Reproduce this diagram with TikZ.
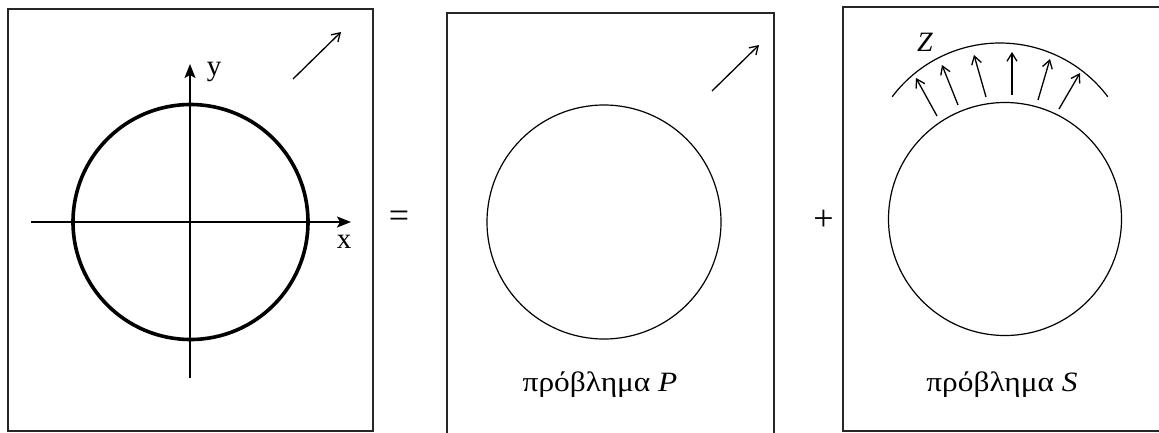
\documentclass[tikz,border=0pt]{standalone}
\usepackage{fontspec}
\setmainfont{Liberation Serif}
\usetikzlibrary{arrows.meta}
\begin{document}
\begin{tikzpicture}[x=1pt,y=-1pt,
  frame/.style={draw=black!85,line width=1.6pt},
  thickcirc/.style={line width=3.6pt},
  thincirc/.style={line width=1.2pt},
  axis/.style={line width=1.4pt,-{Stealth[length=14pt,width=11pt,inset=3pt]}},
  smallarrow/.style={line width=1.3pt,-{Straight Barb[length=8pt,width=10pt]}},
  lbl/.style={font=\fontsize{29}{32}\selectfont,inner sep=0pt},
  captext/.style={font=\fontsize{28}{32}\selectfont,inner sep=0pt},
  op/.style={font=\fontsize{36}{40}\selectfont,inner sep=0pt}]
\useasboundingbox (0,0) rectangle (1159,432);
% box 1
\draw[frame] (8,9) rectangle (373,431);
\draw[thickcirc] (190.5,222) circle (117.5);
\coordinate (xs) at (31,222);
\coordinate (xe) at (351,222);
\coordinate (ys) at (190,378);
\coordinate (ye) at (190,64);
\draw[axis] (xs) -- (xe);
\draw[axis] (ys) -- (ye);
\node[lbl] (ylab) at (214,72) {y};
\node[lbl] (xlab) at (344,242) {x};
\coordinate (a1s) at (293,79);
\coordinate (a1e) at (341,32);
\draw[smallarrow] (a1s) -- (a1e);
\node[op] (eq) at (399,219) {=};
% box 2
\draw[frame] (447,13) rectangle (774,434);
\draw[thincirc] (604,222) circle (117);
\coordinate (a2s) at (712,91);
\coordinate (a2e) at (759,45);
\draw[smallarrow] (a2s) -- (a2e);
\node[captext] (tP) at (600,385) {\scalebox{1.12}[1]{πρόβλημα \textit{P}}};
\node[op] (plus) at (823.5,220) {+};
% box 3
\draw[frame] (843,7) rectangle (1165,431);
\draw[thincirc] (1005,219) circle (116.5);
\draw[thincirc] (1000,178) ++(-143:135) arc (-143:-37:135);
\foreach \sx/\sy/\ex/\ey [count=\i] in {937/116/916/78, 958/105/942/65, 986/97/974/55, 1012/95/1012/52, 1038/100/1050/59, 1059/109/1080/73}{
  \coordinate (s\i) at (\sx,\sy);
  \coordinate (e\i) at (\ex,\ey);
  \draw[smallarrow] (s\i) -- (e\i);
}
\node[captext] (Z) at (925,42) {\textit{Z}};
\node[captext] (tS) at (1002,385) {\scalebox{1.12}[1]{πρόβλημα \textit{S}}};
\end{tikzpicture}
\end{document}
